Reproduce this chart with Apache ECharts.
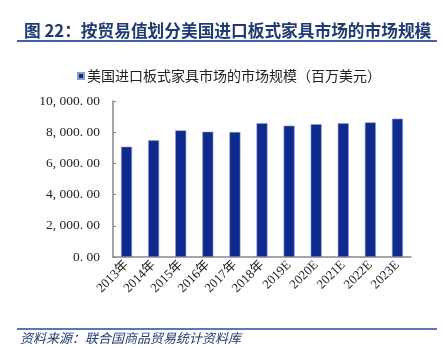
<!DOCTYPE html>
<html>
<head>
<meta charset="utf-8">
<script src="https://cdn.jsdelivr.net/npm/echarts@6/dist/echarts.min.js"></script>
<style>html,body{margin:0;padding:0;background:#fff}#c{width:445px;height:348px}</style>
</head>
<body>
<div id="c"></div>
<script>
var categories = ['2013年','2014年','2015年','2016年','2017年','2018年','2019E','2020E','2021E','2022E','2023E'];
var marketSize = [7070, 7480, 8120, 8030, 8010, 8570, 8420, 8510, 8570, 8630, 8870];
var seriesName = '美国进口板式家具市场的市场规模（百万美元）';
var titleText = '图 22：按贸易值划分美国进口板式家具市场的市场规模';
var sourceText = '资料来源：联合国商品贸易统计资料库';

var chart = echarts.init(document.getElementById('c'), null, {renderer: 'canvas'});
function fmt(v) {
  var s = v.toFixed(2);
  var parts = s.split('.');
  var intPart = parts[0].replace(/\B(?=(\d{3})+(?!\d))/g, ', ');
  return intPart + '. ' + parts[1];
}
chart.setOption({
  animation: false,
  title: {
    text: titleText,
    left: 19, top: 17,
    textStyle: {fontFamily: '"Noto Sans CJK SC", sans-serif', fontSize: 16.7, fontWeight: 'bold', color: '#1F3B73'}
  },
  graphic: [
    {type: 'line', shape: {x1: 17, y1: 41, x2: 437, y2: 41}, style: {stroke: '#3F5FA8', lineWidth: 2}},
    {type: 'line', shape: {x1: 17, y1: 329, x2: 437, y2: 329}, style: {stroke: '#5A78B8', lineWidth: 2}},
    {type: 'text', left: 20, top: 332, style: {text: sourceText, font: 'italic 13px "Noto Sans CJK SC", sans-serif', fill: '#1F3B73'}}
  ],
  legend: {
    data: [seriesName],
    left: 72, top: 64,
    itemWidth: 6, itemHeight: 6, itemGap: 4,
    icon: 'rect',
    textStyle: {fontFamily: '"Noto Sans CJK SC", sans-serif', fontSize: 14, color: '#222', padding: [0,0,0,-2]}
  },
  grid: {left: 113, right: 34, top: 101, bottom: 91},
  xAxis: {
    type: 'category',
    data: categories,
    axisLine: {lineStyle: {color: '#888', width: 1.5}},
    axisTick: {show: false},
    axisLabel: {rotate: 45, interval: 0, margin: 6, fontFamily: '"Liberation Serif", "Noto Sans CJK SC", serif', fontSize: 13, color: '#222'}
  },
  yAxis: {
    type: 'value',
    min: 0, max: 10000, interval: 2000,
    splitLine: {show: false},
    axisLine: {show: true, lineStyle: {color: '#888', width: 1.5}},
    axisTick: {show: true, inside: true, length: 3, lineStyle: {color: '#888'}},
    axisLabel: {formatter: fmt, margin: 13, fontFamily: '"Liberation Serif", serif', fontSize: 13.5, color: '#222'}
  },
  series: [{
    name: seriesName,
    type: 'bar',
    data: marketSize,
    barWidth: 11,
    itemStyle: {color: '#0E2A8F', borderColor: '#8C9CCB', borderWidth: 0.6}
  }]
});
</script>
</body>
</html>
